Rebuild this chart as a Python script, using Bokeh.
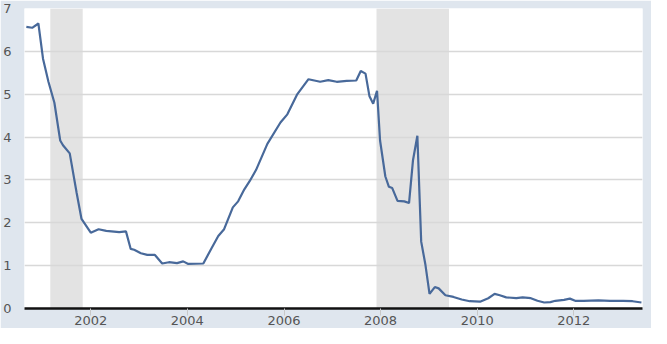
import pandas as pd
from bokeh.plotting import figure
from bokeh.models import Range1d, FixedTicker, DatetimeTickFormatter, BoxAnnotation, ColumnDataSource
from bokeh.embed import file_html
from bokeh.resources import INLINE

# ---- data ----
dates = [
    "2000-09-01", "2000-10-15", "2000-12-01", "2001-01-05", "2001-02-15", "2001-04-01",
    "2001-05-15", "2001-06-05", "2001-07-26", "2001-09-16", "2001-10-23", "2002-01-01",
    "2002-03-01", "2002-04-28", "2002-08-04", "2002-09-24", "2002-10-30", "2002-11-25",
    "2003-01-15", "2003-03-04", "2003-05-01", "2003-06-25", "2003-08-15", "2003-10-15",
    "2003-12-01", "2004-01-08", "2004-05-01", "2004-07-01", "2004-08-22", "2004-10-05",
    "2004-12-10", "2005-01-19", "2005-03-07", "2005-04-16", "2005-06-03", "2005-08-28",
    "2005-12-05", "2006-01-26", "2006-04-09", "2006-07-05", "2006-10-01", "2006-12-02",
    "2007-02-03", "2007-04-20", "2007-07-01", "2007-08-04", "2007-09-09", "2007-10-09",
    "2007-11-06", "2007-12-05", "2007-12-28", "2008-02-06", "2008-03-04", "2008-03-29",
    "2008-05-08", "2008-06-28", "2008-08-03", "2008-09-02", "2008-10-05", "2008-11-03",
    "2008-12-05", "2009-01-05", "2009-02-14", "2009-03-15", "2009-05-05", "2009-07-05",
    "2009-09-05", "2009-11-05", "2010-01-22", "2010-03-25", "2010-05-12", "2010-06-20",
    "2010-08-08", "2010-10-23", "2010-12-10", "2011-02-10", "2011-04-01", "2011-05-22",
    "2011-07-08", "2011-08-14", "2011-10-19", "2011-12-02", "2012-01-11", "2012-03-14",
    "2012-07-05", "2012-10-01", "2013-01-08", "2013-03-20", "2013-05-26",
]
rate = [
    6.57, 6.55, 6.65, 5.83, 5.29, 4.80,
    3.92, 3.81, 3.62, 2.70, 2.09, 1.77,
    1.85, 1.81, 1.78, 1.80, 1.39, 1.37,
    1.29, 1.25, 1.25, 1.05, 1.08, 1.06,
    1.10, 1.04, 1.05, 1.40, 1.69, 1.85,
    2.36, 2.50, 2.78, 2.97, 3.23, 3.84,
    4.34, 4.53, 4.99, 5.35, 5.29, 5.33,
    5.29, 5.31, 5.32, 5.54, 5.48, 4.95,
    4.78, 5.08, 3.92, 3.08, 2.84, 2.81,
    2.51, 2.50, 2.46, 3.46, 4.03, 1.56,
    1.02, 0.34, 0.50, 0.47, 0.31, 0.27,
    0.21, 0.17, 0.16, 0.24, 0.34, 0.31,
    0.26, 0.24, 0.26, 0.24, 0.18, 0.14,
    0.15, 0.18, 0.20, 0.23, 0.18, 0.18,
    0.19, 0.18, 0.18, 0.17, 0.14,
]
recession_start = ["2001-03-01", "2007-12-01"]
recession_end = ["2001-11-01", "2009-06-01"]
tick_years = ["2002-01-01", "2004-01-01", "2006-01-01", "2008-01-01", "2010-01-01", "2012-01-01"]
x_start, x_end = "2000-08-18", "2013-06-03"
y_ticks = [0, 1, 2, 3, 4, 5, 6, 7]

src = ColumnDataSource(dict(date=pd.to_datetime(dates), rate=rate))

p = figure(width=651, height=328, x_axis_type="datetime",
           output_backend="svg", toolbar_location=None,
           x_range=Range1d(pd.Timestamp(x_start), pd.Timestamp(x_end)),
           y_range=Range1d(0, 7),
           min_border_left=17, min_border_right=9, min_border_top=8, min_border_bottom=20)

p.background_fill_color = "white"
p.border_fill_color = "#dfe6ee"
p.outline_line_color = None

for s, e in zip(recession_start, recession_end):
    p.add_layout(BoxAnnotation(left=pd.Timestamp(s), right=pd.Timestamp(e),
                               fill_color="#e3e3e3", fill_alpha=1.0,
                               line_color=None, level="image"))

p.line("date", "rate", source=src, line_color="#48699a", line_width=2.2)

# x axis
p.xaxis.ticker = FixedTicker(ticks=[pd.Timestamp(t).value / 1e6 for t in tick_years])
p.xaxis.formatter = DatetimeTickFormatter(years="%Y", months="%Y", days="%Y",
                                          hours="%Y", minutes="%Y", seconds="%Y")
p.xaxis.axis_line_color = "#111111"
p.xaxis.axis_line_width = 2.5
p.xaxis.major_tick_line_color = "#c8c8c8"
p.xaxis.major_tick_out = 7
p.xaxis.major_tick_in = 0
p.xaxis.minor_tick_line_color = None
p.xaxis.major_label_standoff = 0
p.xaxis.axis_label_standoff = 0

# y axis
p.yaxis.ticker = FixedTicker(ticks=y_ticks)
p.yaxis.axis_line_color = None
p.yaxis.major_tick_line_color = None
p.yaxis.minor_tick_line_color = None
p.yaxis.major_label_standoff = 7
p.yaxis.axis_label_standoff = 0

for ax in (p.xaxis, p.yaxis):
    ax.major_label_text_font = "DejaVu Sans"
    ax.major_label_text_font_size = "13px"
    ax.major_label_text_color = "#555555"

p.xgrid.grid_line_color = None
p.ygrid.ticker = FixedTicker(ticks=y_ticks)
p.ygrid.grid_line_color = "#d8d8d8"
p.ygrid.grid_line_width = 1.5

open("out.html", "w").write(file_html(p, INLINE))
